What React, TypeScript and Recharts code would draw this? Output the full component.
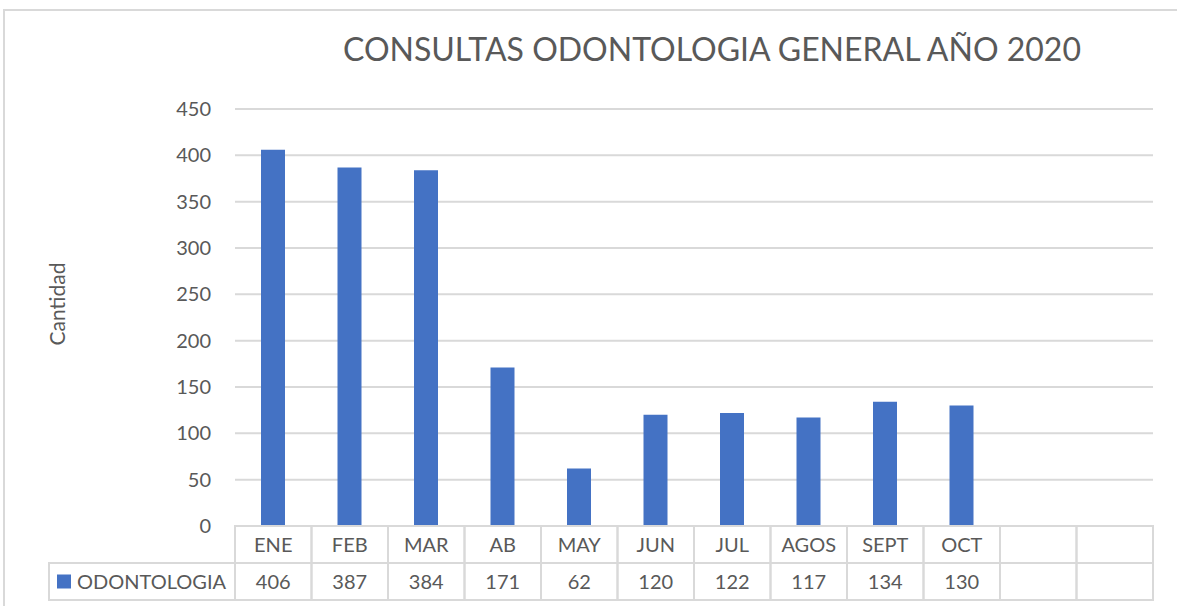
import React from 'react'
import { BarChart, Bar, XAxis, YAxis, CartesianGrid } from 'recharts'

const categories = ['ENE', 'FEB', 'MAR', 'AB', 'MAY', 'JUN', 'JUL', 'AGOS', 'SEPT', 'OCT', '', '']
const odontologia: (number | null)[] = [406, 387, 384, 171, 62, 120, 122, 117, 134, 130, null, null]
const yTicks = [0, 50, 100, 150, 200, 250, 300, 350, 400, 450]

const data = categories.map((mes, i) => ({ mes, odontologia: odontologia[i] }))

const FONT = 'Lato, "Open Sans", sans-serif'
const GRID = '#d9d9d9'
const TEXT = '#595959'
const BLUE = '#4472c4'

const W = 1177
const H = 606
const PLOT_LEFT = 235
const PLOT_RIGHT = 24
const ROW = 37
const LEGEND_LEFT = 49

const TableTick = ({ x, y, index }: any) => {
  const cellW = (W - PLOT_LEFT - PLOT_RIGHT) / categories.length
  const left = x - cellW / 2
  const v = odontologia[index]
  return (
    <g>
      <rect x={left} y={y} width={cellW} height={ROW} fill="none" stroke={GRID} strokeWidth={2} />
      <rect x={left} y={y + ROW} width={cellW} height={ROW} fill="none" stroke={GRID} strokeWidth={2} />
      <text x={x} y={y + ROW / 2 + 7} textAnchor="middle" fontSize={20} fill={TEXT} fontFamily={FONT}>
        {categories[index]}
      </text>
      <text x={x} y={y + ROW * 1.5 + 7} textAnchor="middle" fontSize={20} fill={TEXT} fontFamily={FONT}>
        {v == null ? '' : v}
      </text>
      {index === 0 && (
        <g>
          <rect x={LEGEND_LEFT} y={y + ROW} width={left - LEGEND_LEFT} height={ROW} fill="none" stroke={GRID} strokeWidth={2} />
          <rect x={LEGEND_LEFT + 8} y={y + ROW * 1.5 - 7} width={14} height={14} fill={BLUE} />
          <text x={LEGEND_LEFT + 28} y={y + ROW * 1.5 + 7} fontSize={20} fill={TEXT} fontFamily={FONT}>
            ODONTOLOGIA
          </text>
        </g>
      )}
    </g>
  )
}

export default function App() {
  return (
    <div style={{ position: 'absolute', left: 0, top: 0, width: W, height: H, background: '#fff', fontFamily: FONT }}>
      <div
        style={{
          position: 'absolute', left: 3, top: 9, width: W - 3, height: H,
          borderTop: `2px solid ${GRID}`, borderLeft: `2px solid ${GRID}`, boxSizing: 'border-box',
        }}
      />
      <div
        style={{
          position: 'absolute', left: 240, width: 944, top: 29, textAlign: 'center',
          fontSize: 32, color: TEXT, fontFamily: FONT,
        }}
      >
        CONSULTAS ODONTOLOGIA GENERAL AÑO 2020
      </div>
      <div
        style={{
          position: 'absolute', left: 56, top: 304, transform: 'translate(-50%, -50%) rotate(-90deg)',
          fontSize: 21, color: TEXT, fontFamily: FONT, whiteSpace: 'nowrap',
        }}
      >
        Cantidad
      </div>
      <div style={{ position: 'absolute', left: 0, top: 0 }}>
        <BarChart
          width={W}
          height={H}
          data={data}
          margin={{ top: 109, right: PLOT_RIGHT, bottom: 6, left: 0 }}
        >
          <CartesianGrid vertical={false} stroke={GRID} strokeWidth={2} />
          <XAxis
            height={74}
            axisLine={false}
            tickLine={false}
            tickSize={0}
            tickMargin={0}
            interval={0}
            tick={<TableTick />}
          />
          <YAxis
            width={PLOT_LEFT}
            domain={[0, 450]}
            ticks={yTicks}
            axisLine={false}
            tickLine={false}
            tickSize={0}
            tickMargin={24}
            tick={{ fill: TEXT, fontSize: 20, fontFamily: FONT }}
          />
          <Bar dataKey="odontologia" fill={BLUE} barSize={24} isAnimationActive={false} />
        </BarChart>
      </div>
    </div>
  )
}
